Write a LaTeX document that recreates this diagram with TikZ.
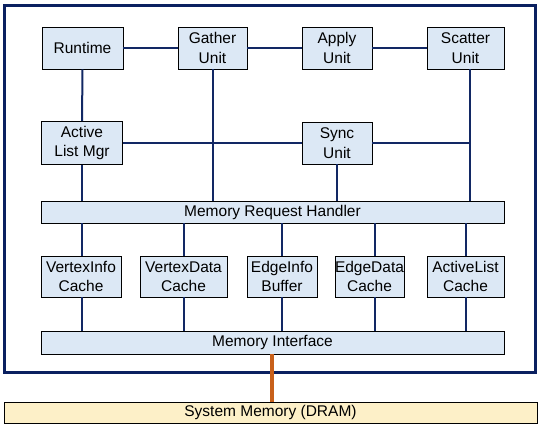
\documentclass[tikz,border=0pt]{standalone}
\usepackage{fontspec}
\setmainfont{Liberation Sans}
\usetikzlibrary{calc}
\definecolor{boxfill}{RGB}{220,232,245}
\definecolor{navy}{RGB}{18,40,100}
\definecolor{framecol}{RGB}{10,32,96}
\definecolor{memfill}{RGB}{253,240,200}
\definecolor{orangeline}{RGB}{200,96,26}
\begin{document}
\begin{tikzpicture}[x=1pt,y=-1pt,
  unitbox/.style={draw=black,line width=0.9pt,fill=boxfill,inner sep=0pt,align=center,
    font=\fontsize{15.5}{19.5}\selectfont},
  wire/.style={draw=navy,line width=2pt}]
\useasboundingbox (0,0) rectangle (541,431);
\draw[framecol,line width=3pt] (4.5,5.5) rectangle (535.5,372);
\coordinate (scx) at (470,69);
\coordinate (syncr) at (470,143);
% nodes
\node[unitbox,minimum width=81pt,minimum height=42pt] (rt) at (82.5,48) {Runtime};
\node[unitbox,minimum width=69pt,minimum height=42pt] (ga) at (212.5,48) {Gather\\Unit};
\node[unitbox,minimum width=70pt,minimum height=42pt] (ap) at (337,48) {Apply\\Unit};
\node[unitbox,minimum width=77pt,minimum height=42pt] (sc) at (465.5,48) {Scatter\\Unit};
\node[unitbox,minimum width=81pt,minimum height=43pt] (alm) at (82,143) {Active\\List Mgr};
\node[unitbox,minimum width=70pt,minimum height=42pt] (sy) at (337,143) {Sync\\Unit};
\node[unitbox,minimum width=463pt,minimum height=22pt] (mrh) at (272.5,212) {Memory Request Handler};
\node[unitbox,minimum width=80pt,minimum height=41pt] (vi) at (81,276.5) {VertexInfo\\Cache};
\node[unitbox,minimum width=87pt,minimum height=41pt] (vd) at (183.5,276.5) {VertexData\\Cache};
\node[unitbox,minimum width=70pt,minimum height=41pt] (ei) at (282,276.5) {EdgeInfo\\Buffer};
\node[unitbox,minimum width=65pt,minimum height=41pt] (ed) at (369.5,276.5) {EdgeData\\Cache};
\node[unitbox,minimum width=77pt,minimum height=41pt] (ac) at (465.5,276.5) {ActiveList\\Cache};
\node[unitbox,minimum width=463pt,minimum height=23pt] (mi) at (272.5,342.5) {Memory Interface};
\node[unitbox,fill=memfill,minimum width=533pt,minimum height=21pt] (sm) at (270.5,412.5) {System Memory (DRAM)};
% top row
\draw[wire] (rt.east) -- (ga.west);
\draw[wire] (ga.east) -- (ap.west);
\draw[wire] (ap.east) -- (sc.west);
\draw[wire] (rt.south) -- (alm.north);
\draw[wire] (alm.south) -- (alm.south |- mrh.north);
\draw[wire] (ga.south) -- (ga.south |- mrh.north);
\draw[wire] (alm.east) -- (sy.west);
\draw[wire] (sy.east) -- (syncr);
\draw[wire] (scx) -- (scx |- mrh.north);
\draw[wire] (sy.south) -- (sy.south |- mrh.north);
% caches
\coordinate (c1) at (82,0);
\coordinate (c2) at (184,0);
\coordinate (c3) at (282,0);
\coordinate (c4) at (375,0);
\coordinate (c5) at (466,0);
\draw[wire] (c1 |- mrh.south) -- (c1 |- vi.north);
\draw[wire] (c2 |- mrh.south) -- (c2 |- vd.north);
\draw[wire] (c3 |- mrh.south) -- (c3 |- ei.north);
\draw[wire] (c4 |- mrh.south) -- (c4 |- ed.north);
\draw[wire] (c5 |- mrh.south) -- (c5 |- ac.north);
\draw[wire] (c1 |- vi.south) -- (c1 |- mi.north);
\draw[wire] (c2 |- vd.south) -- (c2 |- mi.north);
\draw[wire] (c3 |- ei.south) -- (c3 |- mi.north);
\draw[wire] (c4 |- ed.south) -- (c4 |- mi.north);
\draw[wire] (c5 |- ac.south) -- (c5 |- mi.north);
% to DRAM
\coordinate (om) at (272,0);
\draw[orangeline,line width=3.5pt] (om |- mi.south) -- (om |- sm.north);
\end{tikzpicture}
\end{document}
